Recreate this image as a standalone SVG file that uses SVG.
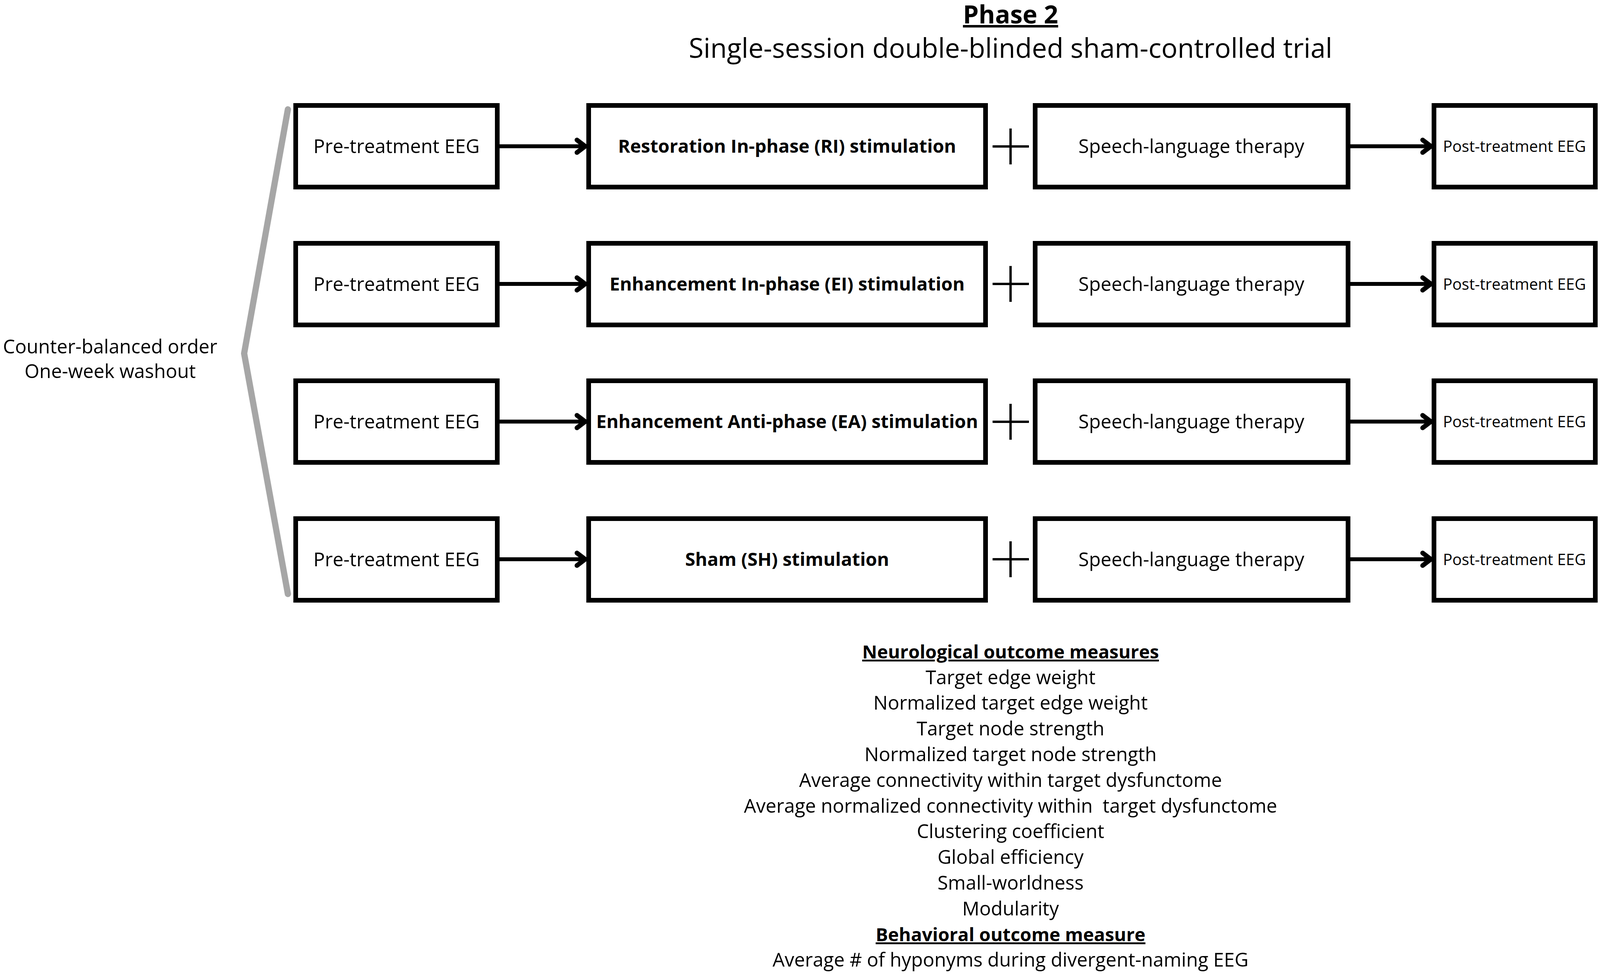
<svg xmlns="http://www.w3.org/2000/svg" width="4212" height="2494" viewBox="0 0 4212 2494">
<style>
  .box { fill: #ffffff; stroke: #000000; stroke-width: 12; }
  .t { font-family: "Open Sans", "Noto Sans", "Liberation Sans", sans-serif; font-size: 49px; fill: #000000; text-anchor: middle; }
  .b { font-weight: 700; font-size: 47px; }
  .post { font-size: 40px; }
  .conn { stroke: #000000; stroke-width: 10; fill: none; }
  .plus { stroke: #000000; stroke-width: 6; fill: none; }
  .list { font-family: "Open Sans", "Noto Sans", "Liberation Sans", sans-serif; font-size: 49px; fill: #000000; text-anchor: middle; }
  .lb { font-weight: 700; font-size: 47px; text-decoration: underline; }
</style>
<defs>
  <marker id="chev" markerUnits="userSpaceOnUse" markerWidth="50" markerHeight="60" viewBox="-40 -30 50 60" refX="0" refY="0" orient="auto">
    <path d="M-24,-16 L-3,0 L-24,16" fill="none" stroke="#000000" stroke-width="12" stroke-linecap="round" stroke-linejoin="miter"/>
  </marker>
</defs>
<rect x="0" y="0" width="4212" height="2494" fill="#ffffff"/>

<g id="title">
  <text class="t" x="2587" y="60" style="font-size:64px;font-weight:700;text-decoration:underline">Phase 2</text>
  <text class="t" x="2587" y="148" style="font-size:69px">Single-session double-blinded sham-controlled trial</text>
</g>

<g id="order-label">
  <path d="M737,280 L625,905 L737,1521" fill="none" stroke="#a6a6a6" stroke-width="16" stroke-linecap="round" stroke-linejoin="round"/>
  <text class="t" x="282" y="905">Counter-balanced order</text>
  <text class="t" x="282" y="968">One-week washout</text>
</g>

<!-- Row 1 -->
<g id="pre1"><rect class="box" x="757" y="270" width="516" height="209"/><text class="t" x="1015" y="392">Pre-treatment EEG</text></g>
<g id="stim1"><rect class="box" x="1507" y="270" width="1016" height="209"/><text class="t b" x="2015" y="391">Restoration In-phase (RI) stimulation</text></g>
<g id="slt1"><rect class="box" x="2650" y="270" width="801" height="209"/><text class="t" x="3050" y="392">Speech-language therapy</text></g>
<g id="post1"><rect class="box" x="3671" y="270" width="413" height="209"/><text class="t post" x="3877" y="389">Post-treatment EEG</text></g>

<!-- Row 2 -->
<g id="pre2"><rect class="box" x="757" y="623" width="516" height="209"/><text class="t" x="1015" y="745">Pre-treatment EEG</text></g>
<g id="stim2"><rect class="box" x="1507" y="623" width="1016" height="209"/><text class="t b" x="2015" y="744">Enhancement In-phase (EI) stimulation</text></g>
<g id="slt2"><rect class="box" x="2650" y="623" width="801" height="209"/><text class="t" x="3050" y="745">Speech-language therapy</text></g>
<g id="post2"><rect class="box" x="3671" y="623" width="413" height="209"/><text class="t post" x="3877" y="742">Post-treatment EEG</text></g>

<!-- Row 3 -->
<g id="pre3"><rect class="box" x="757" y="975" width="516" height="209"/><text class="t" x="1015" y="1097">Pre-treatment EEG</text></g>
<g id="stim3"><rect class="box" x="1507" y="975" width="1016" height="209"/><text class="t b" x="2015" y="1096">Enhancement Anti-phase (EA) stimulation</text></g>
<g id="slt3"><rect class="box" x="2650" y="975" width="801" height="209"/><text class="t" x="3050" y="1097">Speech-language therapy</text></g>
<g id="post3"><rect class="box" x="3671" y="975" width="413" height="209"/><text class="t post" x="3877" y="1094">Post-treatment EEG</text></g>

<!-- Row 4 -->
<g id="pre4"><rect class="box" x="757" y="1328" width="516" height="209"/><text class="t" x="1015" y="1450">Pre-treatment EEG</text></g>
<g id="stim4"><rect class="box" x="1507" y="1328" width="1016" height="209"/><text class="t b" x="2015" y="1449">Sham (SH) stimulation</text></g>
<g id="slt4"><rect class="box" x="2650" y="1328" width="801" height="209"/><text class="t" x="3050" y="1450">Speech-language therapy</text></g>
<g id="post4"><rect class="box" x="3671" y="1328" width="413" height="209"/><text class="t post" x="3877" y="1447">Post-treatment EEG</text></g>

<g id="connectors">
  <line class="conn" x1="1279" y1="374.5" x2="1501" y2="374.5" marker-end="url(#chev)"/>
  <line class="conn" x1="3457" y1="374.5" x2="3666" y2="374.5" marker-end="url(#chev)"/>
  <line class="conn" x1="1279" y1="727" x2="1501" y2="727" marker-end="url(#chev)"/>
  <line class="conn" x1="3457" y1="727" x2="3666" y2="727" marker-end="url(#chev)"/>
  <line class="conn" x1="1279" y1="1079.5" x2="1501" y2="1079.5" marker-end="url(#chev)"/>
  <line class="conn" x1="3457" y1="1079.5" x2="3666" y2="1079.5" marker-end="url(#chev)"/>
  <line class="conn" x1="1279" y1="1432" x2="1501" y2="1432" marker-end="url(#chev)"/>
  <line class="conn" x1="3457" y1="1432" x2="3666" y2="1432" marker-end="url(#chev)"/>
  <path class="plus" d="M2587,329 V421 M2541,375 H2634"/>
  <path class="plus" d="M2587,681 V773 M2541,727 H2634"/>
  <path class="plus" d="M2587,1034 V1126 M2541,1080 H2634"/>
  <path class="plus" d="M2587,1386 V1478 M2541,1432 H2634"/>
</g>

<g id="outcomes">
  <text class="list lb" x="2587" y="1686">Neurological outcome measures</text>
  <text class="list" x="2587" y="1752">Target edge weight</text>
  <text class="list" x="2587" y="1817">Normalized target edge weight</text>
  <text class="list" x="2587" y="1883">Target node strength</text>
  <text class="list" x="2587" y="1949">Normalized target node strength</text>
  <text class="list" x="2587" y="2015">Average connectivity within target dysfunctome</text>
  <text class="list" x="2587" y="2081" style="white-space:pre">Average normalized connectivity within  target dysfunctome</text>
  <text class="list" x="2587" y="2146">Clustering coefficient</text>
  <text class="list" x="2587" y="2212">Global efficiency</text>
  <text class="list" x="2587" y="2278">Small-worldness</text>
  <text class="list" x="2587" y="2344">Modularity</text>
  <text class="list lb" x="2587" y="2410">Behavioral outcome measure</text>
  <text class="list" x="2587" y="2475">Average # of hyponyms during divergent-naming EEG</text>
</g>
</svg>
